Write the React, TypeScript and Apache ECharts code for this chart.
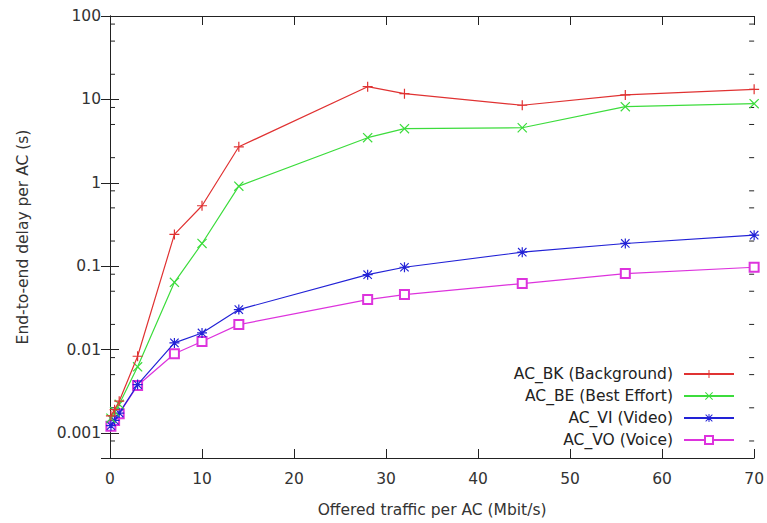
import React, { useEffect, useRef } from "react";
import * as echarts from "echarts";

const xValues = [0.1, 0.5, 1, 3, 7, 10, 14, 28, 32, 44.8, 56, 70];
const bkValues = [0.0016, 0.0019, 0.0024, 0.0083, 0.24, 0.53, 2.7, 14.2, 11.7, 8.5, 11.3, 13.2];
const beValues = [0.0015, 0.0018, 0.0022, 0.0062, 0.064, 0.187, 0.91, 3.47, 4.45, 4.57, 8.17, 8.88];
const viValues = [0.00122, 0.00141, 0.00173, 0.0038, 0.012, 0.0158, 0.0301, 0.079, 0.097, 0.147, 0.187, 0.235];
const voValues = [0.0012, 0.00141, 0.0017, 0.0037, 0.0089, 0.0125, 0.0199, 0.0397, 0.0456, 0.0618, 0.0815, 0.097];
const seriesNames = ["AC_BK (Background)", "AC_BE (Best Effort)", "AC_VI (Video)", "AC_VO (Voice)"];
const minorTickValues = [
  80, 50, 20, 8, 5, 2, 0.8, 0.5, 0.2, 0.08, 0.05, 0.02, 0.008, 0.005, 0.002, 0.0008,
];

const FONT = "DejaVu Sans";
const AXIS = "#222";
const FS = 15.5;

const plusPath = "path://M4.4,0H5.6V4.4H10V5.6H5.6V10H4.4V5.6H0V4.4H4.4Z";
const crossPath =
  "path://M0.85,0L5,4.15L9.15,0L10,0.85L5.85,5L10,9.15L9.15,10L5,5.85L0.85,10L0,9.15L4.15,5L0,0.85Z";
const starPath =
  "path://M4.4,0H5.6V4.4H10V5.6H5.6V10H4.4V5.6H0V4.4H4.4ZM1.2,0.4L5,4.2L8.8,0.4L9.6,1.2L5.8,5L9.6,8.8L8.8,9.6L5,5.8L1.2,9.6L0.4,8.8L4.2,5L0.4,1.2Z";

function fmtLog(value: number): string {
  const l = Math.log10(value);
  if (Math.abs(l - Math.round(l)) > 1e-6) return "";
  return String(Number(Math.pow(10, Math.round(l)).toPrecision(6)));
}

export default function App() {
  const ref = useRef<HTMLDivElement>(null);
  useEffect(() => {
    if (!ref.current) return;
    const chart = echarts.init(ref.current, undefined, { renderer: "svg" });
    const mk = (vals: number[]) => xValues.map((x, i) => [x, vals[i]]);
    const colors = ["#e03232", "#3cdc3c", "#2222d6", "#dd33dd"];
    const symbols = [plusPath, crossPath, starPath, "emptyRect"];
    const dataSets = [bkValues, beValues, viValues, voValues];

    const lineSeries = seriesNames.map((name, i) => ({
      name,
      type: "line",
      data: mk(dataSets[i]),
      symbol: symbols[i],
      symbolSize: i === 3 ? 9 : 10,
      showAllSymbol: true,
      lineStyle: { color: colors[i], width: 1.2 },
      itemStyle:
        i === 3
          ? { color: colors[i], borderColor: colors[i], borderWidth: 1.3 }
          : { color: colors[i] },
      z: 5 - i,
    }));

    const tickSeries = {
      type: "custom",
      name: "minorTicks",
      silent: true,
      data: minorTickValues.map((v) => [0, v]),
      renderItem: (params: any, api: any) => {
        const v = api.value(1);
        const pl = api.coord([0, v]);
        const pr = api.coord([70, v]);
        const st = { stroke: AXIS, lineWidth: 1 };
        return {
          type: "group",
          children: [
            { type: "line", shape: { x1: pl[0], y1: pl[1], x2: pl[0] + 5, y2: pl[1] }, style: st },
            { type: "line", shape: { x1: pr[0], y1: pr[1], x2: pr[0] - 5, y2: pr[1] }, style: st },
          ],
        };
      },
      z: 1,
    };

    const yBase = {
      type: "log",
      logBase: 10,
      min: 0.0005,
      max: 100,
      axisLine: { show: true, lineStyle: { color: AXIS, width: 1 } },
      axisTick: { show: true, inside: true, length: 9, lineStyle: { color: AXIS } },
      splitLine: { show: false },
    };
    const xBase = {
      type: "value",
      min: 0,
      max: 70,
      interval: 10,
      axisLine: { show: true, lineStyle: { color: AXIS, width: 1 } },
      axisTick: { show: true, inside: true, length: 9, lineStyle: { color: AXIS } },
      splitLine: { show: false },
    };

    chart.setOption({
      animation: false,
      backgroundColor: "#fff",
      textStyle: { fontFamily: FONT },
      grid: { left: 110, right: 12, top: 16, bottom: 65 },
      xAxis: [
        {
          ...xBase,
          position: "bottom",
          name: "Offered traffic per AC (Mbit/s)",
          nameLocation: "middle",
          nameGap: 44,
          nameTextStyle: { fontSize: FS, color: "#333", fontFamily: FONT },
          axisLabel: { fontSize: FS, color: "#333", margin: 13, fontFamily: FONT },
        },
        { ...xBase, position: "top", axisLabel: { show: false } },
      ],
      yAxis: [
        {
          ...yBase,
          position: "left",
          name: "End-to-end delay per AC (s)",
          nameLocation: "middle",
          nameGap: 79,
          nameTextStyle: { fontSize: FS, color: "#333", fontFamily: FONT },
          axisLabel: {
            fontSize: FS,
            color: "#333",
            margin: 9,
            fontFamily: FONT,
            showMinLabel: false,
            formatter: (v: number) => fmtLog(v),
          },
        },
        { ...yBase, position: "right", axisLabel: { show: false } },
      ],
      legend: {
        data: seriesNames,
        orient: "vertical",
        align: "right",
        right: 27,
        top: 361,
        itemWidth: 50,
        itemHeight: 10,
        itemGap: 6,
        textStyle: { fontSize: FS, color: "#222", fontFamily: FONT, padding: [0, 6, 0, 0] },
      },
      series: [...lineSeries, tickSeries],
    });
    return () => chart.dispose();
  }, []);
  return <div ref={ref} style={{ width: 767, height: 523, position: "absolute", left: 0, top: 0 }} />;
}
